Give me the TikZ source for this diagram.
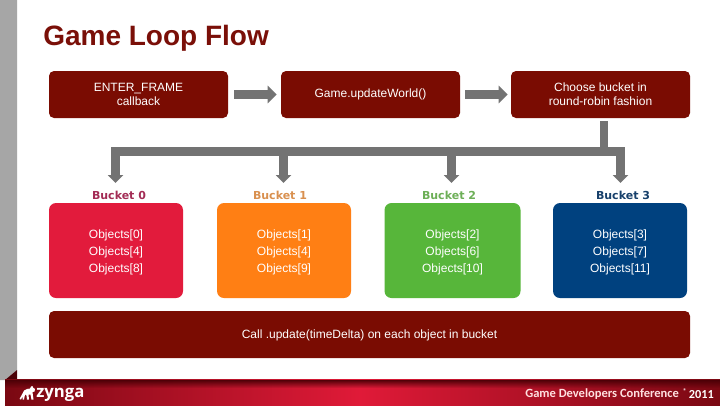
\documentclass[tikz,border=0pt]{standalone}
\usepackage{fontspec}
\setmainfont{Liberation Sans}
\newfontfamily\labelfont{DejaVu Sans}
\newfontfamily\footfont{Carlito}
\newfontfamily\logofont{Open Sans}
\usetikzlibrary{arrows.meta,calc,fadings}
\definecolor{darkred}{HTML}{7A0C02}
\definecolor{titlered}{HTML}{7A0F08}
\definecolor{crimson}{HTML}{E21B3C}
\definecolor{orangeb}{HTML}{FF7F14}
\definecolor{greenb}{HTML}{57B63A}
\definecolor{blueb}{HTML}{00417F}
\definecolor{flowgray}{HTML}{737373}
\definecolor{bargray}{HTML}{A6A6A6}
\definecolor{footdark}{HTML}{7A0812}
\definecolor{footmid}{HTML}{E01A38}
\definecolor{foottop}{HTML}{4A0006}
\definecolor{lab0}{HTML}{A32C55}
\definecolor{lab1}{HTML}{D9904F}
\definecolor{lab2}{HTML}{6DAF57}
\definecolor{lab3}{HTML}{17406B}
\tikzset{
 px/.style={x=0.75pt,y=-0.75pt},
 box/.style={fill=#1,draw=none,rounded corners=3.75pt,align=center,text=white,inner sep=0pt,
   font=\fontsize{9}{10.5}\selectfont},
 topbox/.style={box=darkred,minimum width=134.25pt,minimum height=35.25pt},
 bucketbox/.style={box=#1,minimum width=100.5pt,minimum height=71.25pt,rounded corners=5.25pt},
 objtext/.style={align=center,text=white,inner sep=0pt,yshift=-1.5pt,
   font=\fontsize{9}{12.75}\selectfont},
 bucketlabel/.style={text=#1,font=\labelfont\bfseries\fontsize{8.25}{10}\selectfont,inner sep=0pt},
 flow/.style={draw=flowgray,line width=6.75pt,-{Triangle[length=6.75pt,width=12.75pt]}},
 flowline/.style={draw=flowgray,line width=6.75pt},
 flowdown/.style={draw=flowgray,line width=6.75pt,-{Triangle[length=6pt,width=11.25pt]}},
}
\begin{document}
\begin{tikzpicture}[px]
\useasboundingbox (0,0) rectangle (720,405);
\fill[white] (0,0) rectangle (720,405);
% slide frame
\fill[bargray] (0,0) -- (17,0) -- (17,370) -- (5,380) -- (0,380) -- cycle;
\fill[foottop] (5,380) -- (17,370) -- (17,380) -- cycle;
\shade[left color=footdark,right color=footmid] (5,379.5) rectangle (360,405);
\shade[left color=footmid,right color=footdark] (360,379.5) rectangle (720,405);
\fill[foottop,path fading=south] (5,379.5) rectangle (720,388);
% title
\node[anchor=base west,inner sep=0pt,text=titlered,font=\bfseries\fontsize{21}{25}\selectfont] (title) at (43,45) {Game Loop Flow};
% top row
\node[topbox] (enter) at (138.5,94.5) {ENTER\_FRAME\\callback};
\node[topbox] (update) at (370.5,94.5) {Game.updateWorld()};
\node[topbox] (choose) at (600.5,94.5) {Choose bucket in\\round-robin fashion};
\draw[flow,shorten <=4.5pt,shorten >=3pt] (enter) -- (update);
\draw[flow,shorten <=3.75pt,shorten >=2.25pt] (update) -- (choose);
% bucket labels
\node[bucketlabel=lab0] (l0) at (119,195) {Bucket 0};
\node[bucketlabel=lab1] (l1) at (280,195) {Bucket 1};
\node[bucketlabel=lab2] (l2) at (449,195) {Bucket 2};
\node[bucketlabel=lab3] (l3) at (623,195) {Bucket 3};
% buckets
\node[bucketbox=crimson,label={[objtext]center:{Objects[0]\\Objects[4]\\Objects[8]}}] (b0) at (116,250.5) {};
\node[bucketbox=orangeb,label={[objtext]center:{Objects[1]\\Objects[4]\\Objects[9]}}] (b1) at (284,250.5) {};
\node[bucketbox=greenb,minimum width=102pt,label={[objtext]center:{Objects[2]\\Objects[6]\\Objects[10]}}] (b2) at (452.5,250.5) {};
\node[bucketbox=blueb,label={[objtext]center:{Objects[3]\\Objects[7]\\Objects[11]}}] (b3) at (620,250.5) {};
\node[topbox,minimum width=480.75pt,execute at begin node={\rule{0pt}{8.2pt}}] (call) at (369.5,334.5) {Call .update(timeDelta) on each object in bucket};
% tree connector
\coordinate (tl) at (115.5,151.5);
\coordinate (tr) at (620.5,151.5);
\coordinate (t1) at (283.5,151.5);
\coordinate (t2) at (451.5,151.5);
\coordinate (tc) at (604,151.5);
\coordinate (e0) at (115.5,183);
\coordinate (e1) at (283.5,183);
\coordinate (e2) at (451.5,183);
\coordinate (e3) at (620.5,183);
\coordinate (s) at (604,121);
\draw[flowline,line width=6pt] (s) -- (tc);
\draw[flowline] ($(tl)+(-4.5,0)$) -- ($(tr)+(4.5,0)$);
\draw[flowdown] (tl) -- (e0);
\draw[flowdown] (t1) -- (e1);
\draw[flowdown] (t2) -- (e2);
\draw[flowdown] (tr) -- (e3);
% footer
\node[anchor=base west,inner sep=0pt,text=white,font=\logofont\bfseries\fontsize{12.5}{14}\selectfont] (zy) at (36,397) {zynga};
\fill[white] (19.5,399) -- (22.5,393.5) -- (24,390.5) -- (27,389) -- (30,388.5) -- (31,386.5) -- (32.5,386) -- (33,387.5) -- (35,389) -- (34.5,391.5) -- (32.5,392) -- (33.5,399.5) -- (31.5,399.5) -- (30.5,394.5) -- (28.5,394.5) -- (29,399.5) -- (27,399.5) -- (26.5,395.5) -- (25,394.5) -- (24,399.5) -- (22.5,399.5) -- (22.8,396) -- (21,399.5) -- cycle;
\node[anchor=base west,inner sep=0pt,text=white!88!red,font=\footfont\bfseries\fontsize{9.4}{11}\selectfont] (gdc) at (525,397) {Game Developers Conference};
\node[anchor=base east,inner sep=0pt,text=white,font=\footfont\bfseries\fontsize{9.2}{10}\selectfont] (yr) at (714,398) {2011};
\node[anchor=base west,inner sep=0pt,text=white,font=\footfont\bfseries\fontsize{5}{5}\selectfont] (reg) at (683,393) {®};
\end{tikzpicture}
\end{document}
